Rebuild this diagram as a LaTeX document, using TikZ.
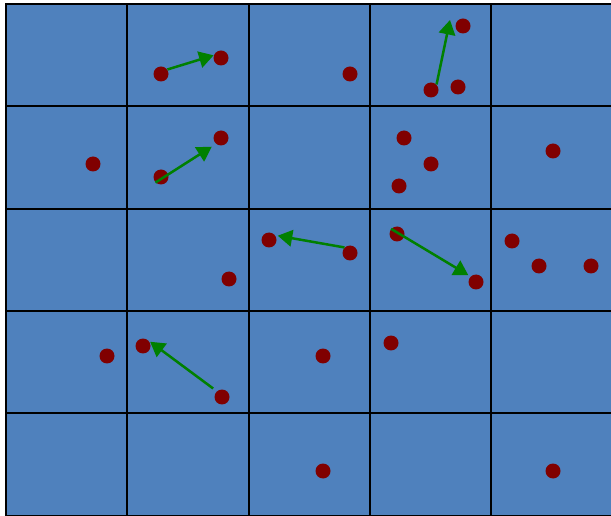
\documentclass[tikz,border=0pt]{standalone}
\usetikzlibrary{arrows.meta}
\definecolor{cellblue}{RGB}{79,129,189}
\definecolor{dotred}{RGB}{128,0,0}
\definecolor{movegreen}{RGB}{0,128,0}
\tikzset{
  particle/.style={circle, fill=dotred, inner sep=0pt, minimum size=0.3cm},
  move/.style={movegreen, line width=0.05cm, -{Triangle[length=0.29cm, width=0.33cm]}},
  cellline/.style={black, line width=0.04cm, line cap=rect}
}
\begin{document}
\begin{tikzpicture}[x=0.02cm, y=-0.02cm]
\useasboundingbox (0,0) rectangle (611,516);
% Cells (5 x 5)
\fill[cellblue] (6,4) rectangle (612.5,515.5);
\foreach \i in {0,...,5} {
    \draw[cellline] (6+121.3*\i,4) -- (6+121.3*\i,515.5);
    \draw[cellline] (6,4+102.3*\i) -- (612.5,4+102.3*\i);
}

% Row 1
\node[particle] (r1c2a) at (161,74) {};
\node[particle] (r1c2b) at (221,58) {};
\node[particle] (r1c3a) at (350,74) {};
\node[particle] (r1c4a) at (431,90) {};
\node[particle] (r1c4b) at (458,87) {};
\node[particle] (r1c4c) at (463,26) {};

% Row 2
\node[particle] (r2c1a) at (93,164) {};
\node[particle] (r2c2a) at (161,177) {};
\node[particle] (r2c2b) at (221,138) {};
\node[particle] (r2c4a) at (404,138) {};
\node[particle] (r2c4b) at (431,164) {};
\node[particle] (r2c4c) at (399,186) {};
\node[particle] (r2c5a) at (553,151) {};

% Row 3
\node[particle] (r3c2a) at (229,279) {};
\node[particle] (r3c3a) at (269,240) {};
\node[particle] (r3c3b) at (350,253) {};
\node[particle] (r3c4a) at (397,234) {};
\node[particle] (r3c4b) at (476,282) {};
\node[particle] (r3c5a) at (512,241) {};
\node[particle] (r3c5b) at (539,266) {};
\node[particle] (r3c5c) at (591,266) {};

% Row 4
\node[particle] (r4c1a) at (107,356) {};
\node[particle] (r4c2a) at (143,346) {};
\node[particle] (r4c2b) at (222,397) {};
\node[particle] (r4c3a) at (323,356) {};
\node[particle] (r4c4a) at (391,343) {};

% Row 5
\node[particle] (r5c3a) at (323,471) {};
\node[particle] (r5c5a) at (553,471) {};

% Moves
\coordinate (r1c4end) at (450,20);
\draw[move] (r1c2a.35) -- (r1c2b.160);
\draw[move] (r1c4a.45) -- (r1c4end);
\draw[move, shorten >=0.1cm] (r2c2a.225) -- (r2c2b.230);
\draw[move, shorten >=0.05cm] (r3c3b.135) -- (r3c3a.37);
\draw[move, shorten >=0.05cm] (r3c4a.139) -- (r3c4b.135);
\draw[move, shorten <=0.09cm, shorten >=0.03cm] (r4c2b.132) -- (r4c2a.41);
\end{tikzpicture}
\end{document}
